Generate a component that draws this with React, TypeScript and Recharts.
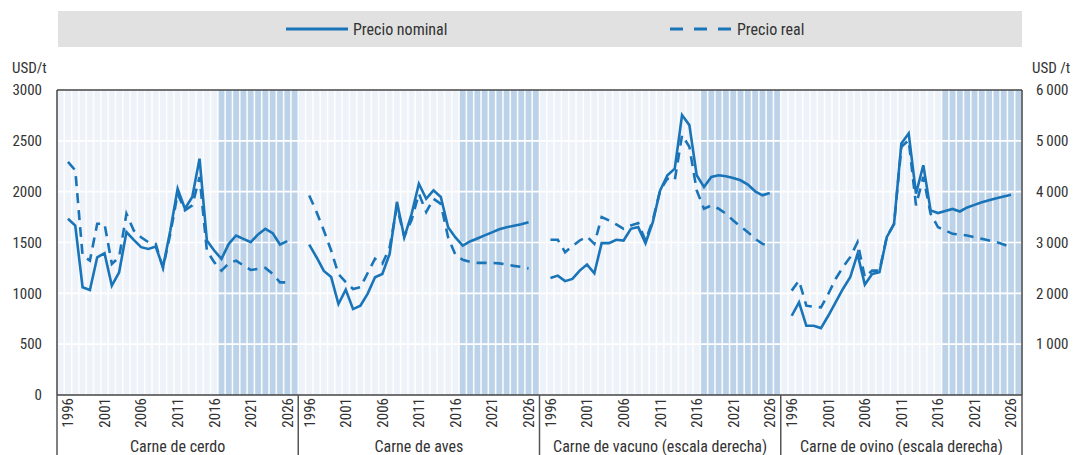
import React from 'react'
import {
  ComposedChart,
  Line,
  XAxis,
  YAxis,
  CartesianGrid,
  ReferenceArea,
  ReferenceLine,
} from 'recharts'

const FONT =
  "'Liberation Sans Narrow', 'Arial Narrow', 'Roboto Condensed', 'DejaVu Sans Condensed', Roboto, sans-serif"
const BLUE = '#1a74b8'
const TEXT = '#333333'

const years = [
  1996, 1997, 1998, 1999, 2000, 2001, 2002, 2003, 2004, 2005, 2006, 2007, 2008, 2009, 2010, 2011,
  2012, 2013, 2014, 2015, 2016, 2017, 2018, 2019, 2020, 2021, 2022, 2023, 2024, 2025, 2026,
]
const labelYears = [1996, 2001, 2006, 2011, 2016, 2021, 2026]
const firstProjection = 2017

const panels = [
  'Carne de cerdo',
  'Carne de aves',
  'Carne de vacuno (escala derecha)',
  'Carne de ovino (escala derecha)',
]

// USD/t, left scale
const porkNominal = [
  1733, 1667, 1059, 1033, 1355, 1395, 1075, 1207, 1602, 1526, 1454, 1437, 1460, 1256, 1618, 2029,
  1832, 1947, 2325, 1520, 1421, 1339, 1487, 1569, 1536, 1503, 1579, 1635, 1592, 1480, 1513,
]
const porkReal = [
  2292, 2210, 1371, 1322, 1684, 1684, 1289, 1355, 1783, 1618, 1552, 1503, 1487, 1250, 1585, 1980,
  1816, 1865, 2144, 1421, 1306, 1223, 1296, 1322, 1273, 1230, 1240, 1250, 1191, 1108, 1108,
]
const poultryNominal = [
  1480, 1355, 1220, 1160, 895, 1036, 845, 878, 997, 1158, 1190, 1388, 1900, 1550, 1780, 2078,
  1930, 2013, 1947, 1650, 1550, 1470, 1510, 1540, 1570, 1600, 1630, 1650, 1665, 1680, 1700,
]
const poultryReal = [
  1963, 1800, 1618, 1421, 1190, 1110, 1043, 1060, 1200, 1340, 1290, 1450, 1850, 1560, 1720, 1980,
  1800, 1930, 1880, 1550, 1380, 1330, 1310, 1300, 1300, 1300, 1295, 1285, 1270, 1260, 1245,
]
// USD/t, right scale
const beefNominal = [
  2303, 2349, 2240, 2283, 2447, 2566, 2395, 2987, 2987, 3053, 3039, 3270, 3303, 2987, 3401, 4026,
  4322, 4454, 5507, 5309, 4322, 4092, 4290, 4322, 4303, 4270, 4224, 4138, 4007, 3928, 3974,
]
const beefReal = [
  3053, 3053, 2809, 2928, 3040, 3118, 2974, 3500, 3434, 3355, 3270, 3336, 3382, 3040, 3434, 4026,
  4257, 4224, 5112, 4882, 4026, 3665, 3730, 3665, 3566, 3434, 3316, 3204, 3072, 2974, 2928,
]
const sheepNominal = [
  1559, 1822, 1362, 1362, 1316, 1559, 1822, 2086, 2316, 2776, 2171, 2382, 2414, 3105, 3368, 4947,
  5145, 3961, 4520, 3632, 3580, 3620, 3660, 3610, 3690, 3740, 3790, 3830, 3870, 3905, 3940,
]
const sheepReal = [
  2053, 2250, 1757, 1737, 1724, 1987, 2283, 2513, 2711, 3007, 2316, 2447, 2447, 3105, 3368, 4882,
  5013, 3730, 4290, 3566, 3303, 3237, 3171, 3158, 3138, 3105, 3072, 3040, 3007, 2961, 2908,
]

const leftTicks = [0, 500, 1000, 1500, 2000, 2500, 3000]
const rightTicks = [1000, 2000, 3000, 4000, 5000, 6000]

const series = [
  { key: 'pork', nominal: porkNominal, real: porkReal, axis: 'left' },
  { key: 'poultry', nominal: poultryNominal, real: poultryReal, axis: 'left' },
  { key: 'beef', nominal: beefNominal, real: beefReal, axis: 'right' },
  { key: 'sheep', nominal: sheepNominal, real: sheepReal, axis: 'right' },
]

// each panel takes SLOT units on one shared numeric x axis
const SLOT = 33
const PAD = 1.5
const W = 1081
const H = 455
const LEFT_W = 57
const RIGHT_W = 59
const TOP = 90
const YEAR_H = 40
const PANEL_H = 20
const PLOT_W = W - LEFT_W - RIGHT_W
const PLOT_BOTTOM = H - YEAR_H - PANEL_H

const toX = (p: number, year: number) => p * SLOT + PAD + (year - years[0])

const data: any[] = []
series.forEach((s, p) => {
  years.forEach((y, i) => {
    data.push({ x: toX(p, y), [s.key + 'Nominal']: s.nominal[i], [s.key + 'Real']: s.real[i] })
  })
})

const yearTicks = panels.flatMap((_, p) => labelYears.map((y) => toX(p, y)))
const panelTicks = panels.map((_, p) => p * SLOT + SLOT / 2)
const stripes: number[] = []
for (let i = 0; i <= panels.length * SLOT; i++) stripes.push(i)

const yearOf = (v: number) => {
  const p = Math.floor(v / SLOT)
  return years[0] + Math.round(v - p * SLOT - PAD)
}

const fmtRight = (v: number) => String(v).replace(/\B(?=(\d{3})+(?!\d))/g, '\u2009')

const YearTick = ({ x, y, payload }: any) => (
  <text
    x={x}
    y={y}
    transform={`rotate(-90 ${x} ${y})`}
    textAnchor="end"
    dy="0.36em"
    fontSize={15}
    fontFamily={FONT}
    fill={TEXT}
  >
    {yearOf(payload.value)}
  </text>
)

const PanelTick = ({ x, payload, index }: any) => {
  const half = PLOT_W / panels.length / 2
  return (
    <g>
      {index === 0 && (
        <line x1={x - half} x2={x - half} y1={PLOT_BOTTOM} y2={H} stroke="#555" strokeWidth={1.5} />
      )}
      <line x1={x + half} x2={x + half} y1={PLOT_BOTTOM} y2={H} stroke="#555" strokeWidth={1.5} />
      <text x={x} y={H - 3} textAnchor="middle" fontSize={16} fontFamily={FONT} fill={TEXT}>
        {panels[Math.round((payload.value - SLOT / 2) / SLOT)]}
      </text>
    </g>
  )
}

const LegendItem = ({ dashed, label, left }: { dashed: boolean; label: string; left: number }) => (
  <div style={{ position: 'absolute', left, top: 0, height: 36, display: 'flex', alignItems: 'center' }}>
    <svg width={62} height={6}>
      <line
        x1={0}
        x2={62}
        y1={3}
        y2={3}
        stroke={BLUE}
        strokeWidth={3}
        strokeDasharray={dashed ? '13 11' : undefined}
      />
    </svg>
    <span style={{ marginLeft: 5, fontSize: 16, fontFamily: FONT, color: TEXT }}>{label}</span>
  </div>
)

export default function App() {
  return (
    <div style={{ position: 'absolute', left: 0, top: 0, width: W, height: H, background: '#fff' }}>
      <div
        style={{
          position: 'absolute',
          left: 58,
          top: 11,
          width: 964,
          height: 36,
          background: '#e1e1e1',
        }}
      >
        <LegendItem dashed={false} label="Precio nominal" left={228} />
        <LegendItem dashed label="Precio real" left={612} />
      </div>
      <div style={{ position: 'absolute', left: 12, top: 59, fontSize: 15, fontFamily: FONT, color: TEXT }}>
        USD/t
      </div>
      <div style={{ position: 'absolute', left: 1032, top: 59, fontSize: 15, fontFamily: FONT, color: TEXT }}>
        USD /t
      </div>
      <ComposedChart
        width={W}
        height={H}
        data={data}
        margin={{ top: TOP, right: 0, bottom: 0, left: 0 }}
      >
        <CartesianGrid yAxisId="left" fill="#eef2f9" horizontal={false} vertical={false} />
        <XAxis
          dataKey="x"
          type="number"
          domain={[0, panels.length * SLOT]}
          ticks={yearTicks}
          interval={0}
          tick={<YearTick />}
          tickLine={false}
          tickSize={0}
          tickMargin={3}
          height={YEAR_H}
          axisLine={{ stroke: '#444', strokeWidth: 1.5 }}
        />
        <XAxis
          xAxisId="panel"
          dataKey="x"
          type="number"
          domain={[0, panels.length * SLOT]}
          ticks={panelTicks}
          interval={0}
          tick={<PanelTick />}
          tickLine={false}
          axisLine={false}
          height={PANEL_H}
        />
        <YAxis
          yAxisId="left"
          domain={[0, 3000]}
          ticks={leftTicks}
          interval={0}
          width={LEFT_W}
          tickSize={0}
          tickMargin={15}
          tickLine={false}
          axisLine={{ stroke: '#444', strokeWidth: 1.5 }}
          tick={{ fontSize: 15, fontFamily: FONT, fill: TEXT }}
        />
        <YAxis
          yAxisId="right"
          orientation="right"
          domain={[0, 6000]}
          ticks={rightTicks}
          interval={0}
          width={RIGHT_W}
          tickSize={0}
          tickMargin={14}
          tickLine={false}
          tickFormatter={fmtRight}
          axisLine={{ stroke: '#444', strokeWidth: 1.5 }}
          tick={{ fontSize: 15, fontFamily: FONT, fill: TEXT }}
        />
        {panels.map((_, p) => (
          <ReferenceArea
            key={'proj' + p}
            yAxisId="left"
            x1={toX(p, firstProjection) - 0.5}
            x2={(p + 1) * SLOT}
            y1={0}
            y2={3000}
            fill="#bcd2e8"
            fillOpacity={1}
            stroke="none"
          />
        ))}
        {stripes.map((v) => (
          <ReferenceLine key={'s' + v} yAxisId="left" x={v} stroke="#ffffff" strokeWidth={1.6} strokeOpacity={0.9} />
        ))}
        {leftTicks.slice(1, -1).map((v) => (
          <ReferenceLine key={'h' + v} yAxisId="left" y={v} stroke="#ffffff" strokeWidth={1.6} />
        ))}
        <ReferenceLine yAxisId="left" y={3000} stroke="#444" strokeWidth={1.5} />
        {series.map((s) => (
          <Line
            key={s.key + 'Nominal'}
            yAxisId={s.axis}
            dataKey={s.key + 'Nominal'}
            stroke={BLUE}
            strokeWidth={2.6}
            dot={false}
            isAnimationActive={false}
          />
        ))}
        {series.map((s) => (
          <Line
            key={s.key + 'Real'}
            yAxisId={s.axis}
            dataKey={s.key + 'Real'}
            stroke={BLUE}
            strokeWidth={2.6}
            strokeDasharray="10 7"
            dot={false}
            isAnimationActive={false}
          />
        ))}
      </ComposedChart>
    </div>
  )
}
